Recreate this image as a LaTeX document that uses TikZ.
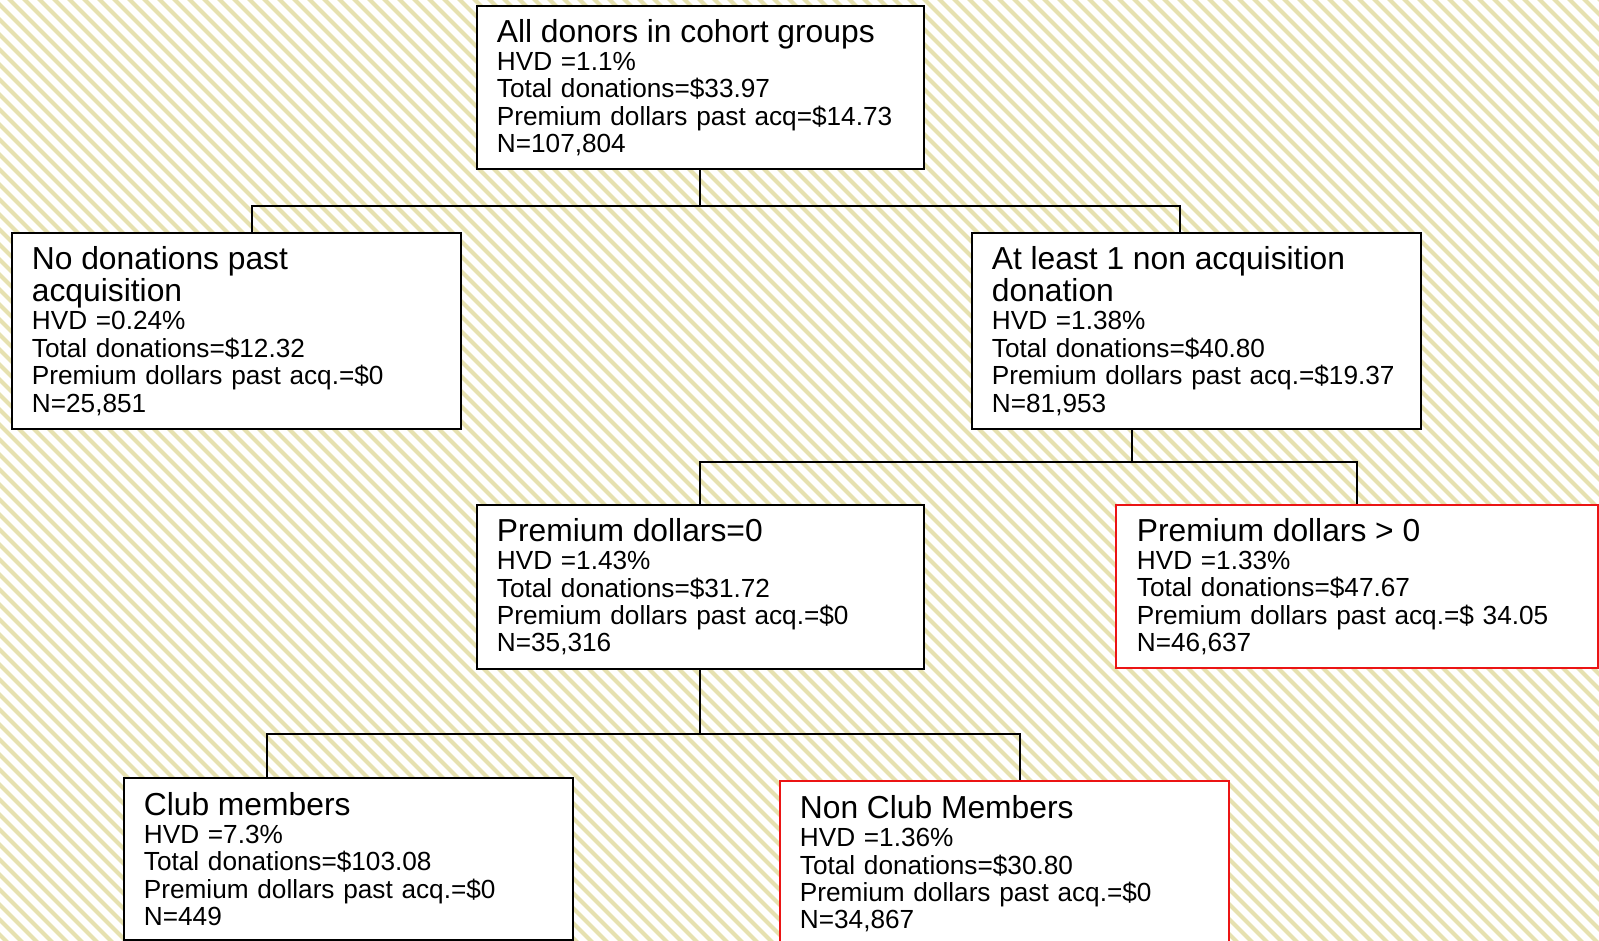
\documentclass[tikz,border=0pt]{standalone}
\usepackage{fontspec}
\setmainfont{Liberation Sans}
\definecolor{stripe}{RGB}{230,225,176}
\definecolor{boxred}{RGB}{235,20,20}
\tikzset{
  box/.style={draw=black, line width=1.8pt, fill=white, anchor=north west,
    inner xsep=20pt, inner ysep=0pt, align=left, font=\bodyfont},
  redbox/.style={box, draw=boxred},
  conn/.style={draw=black, line width=2pt},
  stripeline/.style={draw=stripe, line width=4pt},
}
\newcommand{\bodyfont}{\fontsize{26.2}{27.4}\selectfont}
\newcommand{\ttl}[1]{{\fontsize{31.8}{32.5}\selectfont #1\par}\vspace{0.8pt}}
\begin{document}
\begin{tikzpicture}[x=1pt,y=-1pt]
\useasboundingbox (0,0) rectangle (1599,941);
\fill[white] (0,0) rectangle (1599,941);
\begin{scope}
\clip (0,0) rectangle (1599,941);
\foreach \i in {-70,...,110} {
  \draw[stripeline] (\i*15,-10) -- ++(1000,1000);
}
\end{scope}

\node[box, text width=407pt, minimum width=447pt, minimum height=163pt] (root) at (476,5)
  {\ttl{All donors in cohort groups}HVD =1.1\%\\Total donations=\$33.97\\Premium dollars past acq=\$14.73\\N=107,804};

\node[box, text width=409pt, minimum width=449pt, minimum height=196pt] (b2) at (11,232)
  {\ttl{No donations past\\acquisition}HVD =0.24\%\\Total donations=\$12.32\\Premium dollars past acq.=\$0\\N=25,851};

\node[box, text width=409pt, minimum width=449pt, minimum height=196pt] (b3) at (971,232)
  {\ttl{At least 1 non acquisition\\donation}HVD =1.38\%\\Total donations=\$40.80\\Premium dollars past acq.=\$19.37\\N=81,953};

\node[box, text width=407pt, minimum width=447pt, minimum height=164pt] (b4) at (476,504)
  {\ttl{Premium dollars=0}HVD =1.43\%\\Total donations=\$31.72\\Premium dollars past acq.=\$0\\N=35,316};

\node[redbox, text width=440pt, minimum width=481pt, minimum height=163pt, inner xsep=21pt] (b5) at (1115,504)
  {\ttl{Premium dollars > 0}HVD =1.33\%\\Total donations=\$47.67\\Premium dollars past acq.=\$ 34.05\\N=46,637};

\node[box, text width=409pt, minimum width=449pt, minimum height=162pt] (b6) at (123,777)
  {\ttl{Club members}HVD =7.3\%\\Total donations=\$103.08\\Premium dollars past acq.=\$0\\N=449};

\node[redbox, text width=409pt, minimum width=449pt, minimum height=166pt] (b7) at (779,780)
  {\ttl{Non Club Members}HVD =1.36\%\\Total donations=\$30.80\\Premium dollars past acq.=\$0\\N=34,867};

\draw[conn] (root.south) -- ++(0,36) coordinate (j1);
\draw[conn] ([xshift=241pt]b2.north west) |- (j1) -| ([xshift=209pt]b3.north west);

\draw[conn] ([xshift=161pt]b3.south west) -- ++(0,32) coordinate (j2);
\draw[conn] (b4.north) |- (j2) -| (b5.north);

\draw[conn] (b4.south) -- ++(0,64) coordinate (j3);
\draw[conn] ([xshift=144pt]b6.north west) |- (j3) -| ([xshift=241pt]b7.north west);
\end{tikzpicture}
\end{document}
